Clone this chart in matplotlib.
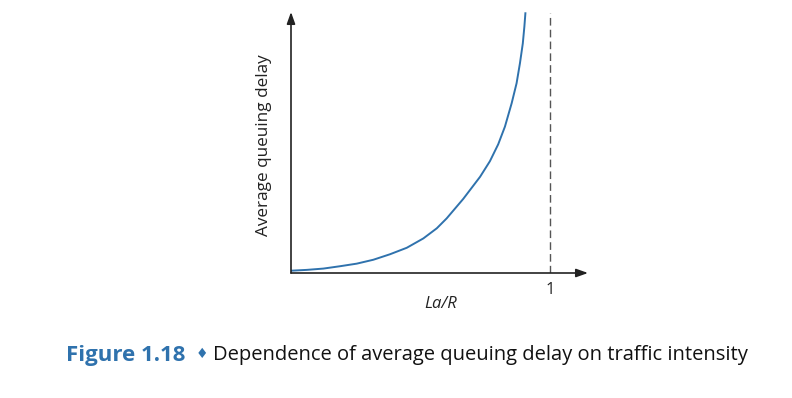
import matplotlib
matplotlib.use("Agg")
import matplotlib.pyplot as plt

# curve (x = La/R, y = delay in arbitrary units)
intensity = [0.003, 0.061, 0.125, 0.189, 0.254, 0.318, 0.382, 0.447, 0.511,
             0.563, 0.601, 0.665, 0.730, 0.768, 0.800, 0.826, 0.852, 0.871,
             0.884, 0.895, 0.901, 0.905]
delay = [0.09, 0.12, 0.17, 0.26, 0.36, 0.51, 0.72, 0.97, 1.33,
         1.72, 2.10, 2.85, 3.70, 4.30, 4.95, 5.63, 6.53, 7.30,
         8.07, 8.83, 9.47, 9.99]

x_label = "La/R"
y_label = "Average queuing delay"
capacity = 1
caption_head = "Figure 1.18"
caption_text = "Dependence of average queuing delay on traffic intensity"

W, H = 792, 398
blue = "#2f72ad"

fig = plt.figure(figsize=(W / 100, H / 100), dpi=100)
# axes placed in pixel terms: origin (291, 273), x-arrow tip 588, y-arrow tip 12
ax = fig.add_axes([291 / W, (H - 273) / H, (588 - 291) / W, (273 - 12) / H])
ax.set_xlim(0, (588 - 291) / 259)
ax.set_ylim(0, 261 / 26)
ax.axis("off")

ax.plot(intensity, delay, color=blue, lw=1.4, solid_joinstyle="round")
ax.plot([capacity, capacity], [0, 261 / 26 - 0.05], color="#555555", lw=1.0,
        dashes=(5.5, 3))

# axes with arrow heads
arrow = dict(arrowstyle="-|>,head_length=0.7,head_width=0.25", color="#222222",
             lw=1.2, shrinkA=0, shrinkB=0)
ax.annotate("", xy=(1, 0), xytext=(0, 0), xycoords="axes fraction",
            arrowprops=arrow)
ax.annotate("", xy=(0, 1), xytext=(0, 0), xycoords="axes fraction",
            arrowprops=arrow)

fam = ["Open Sans", "DejaVu Sans"]
ax.text(capacity, -0.35, "1", ha="center", va="top", fontsize=12,
        family=fam, color="#222222")
fig.text(441 / W, 1 - 304 / H, x_label, ha="center", va="center",
         fontsize=12, style="italic", family=fam, color="#222222")
fig.text(264 / W, 1 - 145 / H, y_label, ha="center", va="center",
         rotation=90, fontsize=12.3, family=fam, color="#222222")

fig.text(66 / W, 1 - 355 / H, caption_head, ha="left", va="center",
         fontsize=16, weight="bold", family=fam, color=blue)
fig.text(202 / W, 1 - 355 / H, "\u2666", ha="center", va="center",
         fontsize=10, family=fam, color=blue)
fig.text(213 / W, 1 - 355 / H, caption_text, ha="left", va="center",
         fontsize=14.5, family=fam, color="#111111")

fig.savefig("out.png", dpi=100)
